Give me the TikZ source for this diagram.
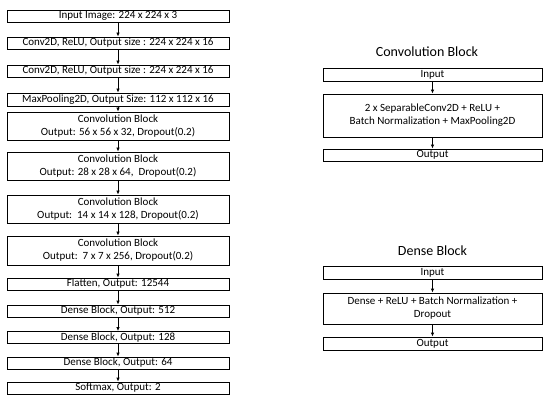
\documentclass[tikz,border=0pt]{standalone}
\usepackage{fontspec}
\setmainfont{Carlito}
\usetikzlibrary{arrows.meta}
\begin{document}
\begin{tikzpicture}[x=1pt,y=-1pt,
  lbox/.style={draw=black,line width=0.8pt,inner sep=0pt,minimum width=222pt,align=center,font=\fontsize{11}{13}\selectfont},
  rbox/.style={draw=black,line width=0.8pt,inner sep=0pt,minimum width=219pt,align=center,font=\fontsize{11}{13}\selectfont},
  ttl/.style={font=\fontsize{14}{16}\selectfont},
  arr/.style={-{Latex[length=4pt,width=3.5pt]},line width=0.8pt}]
\useasboundingbox (0,0) rectangle (550,404);
% left column
\node[lbox,minimum height=12pt] (n1) at (118,16) {Input Image: 224 x 224 x 3};
\node[lbox,minimum height=12pt] (n2) at (118,43) {Conv2D, ReLU, Output size : 224 x 224 x 16};
\node[lbox,minimum height=12pt] (n3) at (118,71) {Conv2D, ReLU, Output size : 224 x 224 x 16};
\node[lbox,minimum height=13pt] (n4) at (118,99.5) {MaxPooling2D, Output Size: 112 x 112 x 16};
\node[lbox,minimum height=28pt] (n5) at (118,126) {Convolution Block\\Output: 56 x 56 x 32, Dropout(0.2)};
\node[lbox,minimum height=28pt] (n6) at (118,166) {Convolution Block\\Output: 28 x 28 x 64,\ \ Dropout(0.2)};
\node[lbox,minimum height=28pt] (n7) at (118,209) {Convolution Block\\Output:\ \ 14 x 14 x 128, Dropout(0.2)};
\node[lbox,minimum height=29pt] (n8) at (118,250.5) {Convolution Block\\Output:\ \ 7 x 7 x 256, Dropout(0.2)};
\node[lbox,minimum height=12pt] (n9) at (118,284) {Flatten, Output: 12544};
\node[lbox,minimum height=12pt] (n10) at (118,311) {Dense Block, Output: 512};
\node[lbox,minimum height=12pt] (n11) at (118,337.5) {Dense Block, Output: 128};
\node[lbox,minimum height=12pt] (n12) at (118,363) {Dense Block, Output: 64};
\node[lbox,minimum height=12pt] (n13) at (118,388) {Softmax, Output: 2};
\foreach \a/\b in {n1/n2,n2/n3,n3/n4,n4/n5,n5/n6,n6/n7,n7/n8,n8/n9,n9/n10,n10/n11,n11/n12,n12/n13}
  \draw[arr] (\a.south) -- (\b.north);
% convolution block
\node[ttl] (ct) at (427,52) {Convolution Block};
\node[rbox,minimum height=13pt] (ci) at (432.5,74.5) {Input};
\node[rbox,minimum height=43pt] (cm) at (432.5,115.5) {2 x SeparableConv2D + ReLU +\\Batch Normalization + MaxPooling2D};
\node[rbox,minimum height=12pt] (co) at (432.5,155) {Output};
\draw[arr] (ci.south) -- (cm.north);
\draw[arr] (cm.south) -- (co.north);
% dense block
\node[ttl] (dt) at (432.5,251) {Dense Block};
\node[rbox,minimum height=13pt] (di) at (432.5,272.5) {Input};
\node[rbox,minimum height=31pt] (dm) at (432.5,308.5) {Dense + ReLU + Batch Normalization +\\Dropout};
\node[rbox,minimum height=13pt] (do) at (432.5,343.5) {Output};
\draw[arr] (di.south) -- (dm.north);
\draw[arr] (dm.south) -- (do.north);
\end{tikzpicture}
\end{document}
